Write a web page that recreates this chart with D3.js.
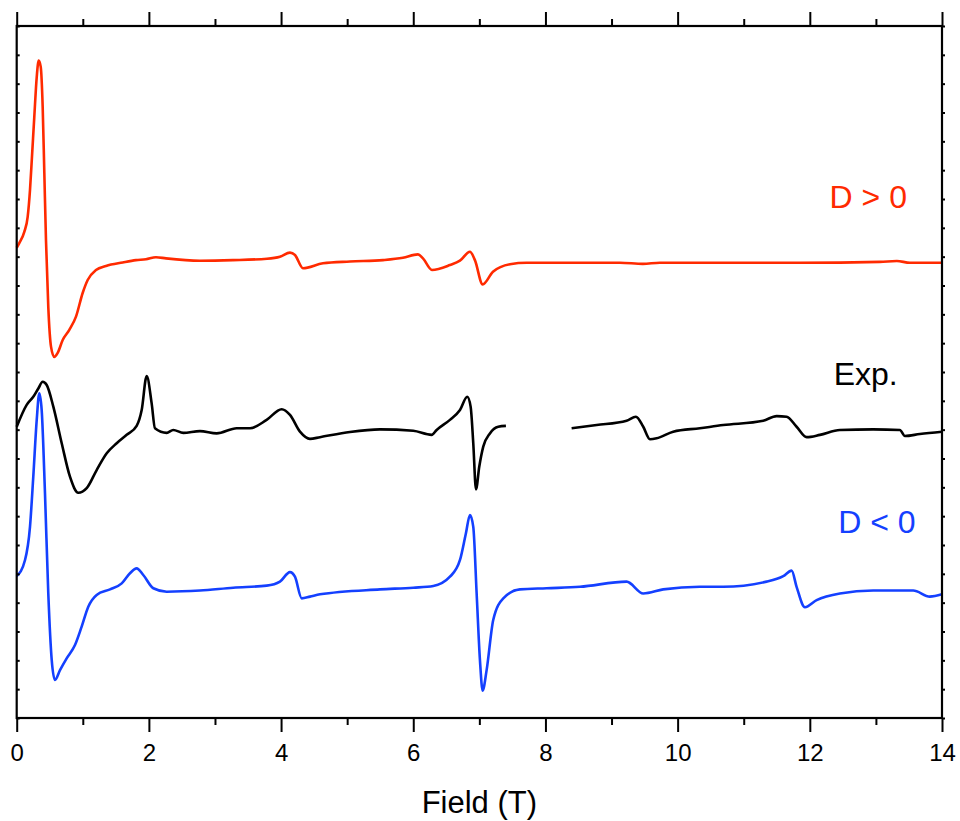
<!DOCTYPE html>
<html>
<head>
<meta charset="utf-8">
<script src="https://cdn.jsdelivr.net/npm/d3@7"></script>
<style>
  body { margin: 0; background: #fff; }
  text { font-family: "Liberation Sans", Arial, sans-serif; }
</style>
</head>
<body>
<script>
// D > 0 simulation (red)
const posField = [0, 0.039, 0.115, 0.166, 0.201, 0.231, 0.266, 0.303, 0.333, 0.363, 0.393, 0.418, 0.443, 0.478, 0.519, 0.569, 0.620, 0.696, 0.796, 0.897, 0.998, 1.074, 1.200, 1.351, 1.604, 1.805, 1.956, 2.107, 2.259, 2.773, 3.272, 3.787, 3.983, 4.135, 4.210, 4.331, 4.634, 5.042, 5.542, 5.844, 6.071, 6.147, 6.283, 6.555, 6.706, 6.858, 6.933, 7.050, 7.206, 7.463, 7.716, 8.068, 9.127, 9.475, 9.732, 11.850, 13.060, 13.317, 13.514, 14.0];
const posInt = [16.31, 16.47, 16.86, 17.38, 18.31, 19.46, 20.84, 22.23, 22.80, 22.59, 21.20, 18.90, 16.58, 14.25, 12.88, 12.52, 12.66, 13.11, 13.46, 13.92, 14.74, 15.19, 15.54, 15.68, 15.80, 15.88, 15.91, 15.98, 15.94, 15.86, 15.88, 15.93, 16.00, 16.14, 16.06, 15.60, 15.77, 15.83, 15.88, 15.96, 16.08, 15.94, 15.54, 15.71, 15.86, 16.17, 15.88, 15.04, 15.48, 15.74, 15.79, 15.79, 15.79, 15.75, 15.79, 15.79, 15.82, 15.85, 15.79, 15.79];

// experiment (black), null = gap in the measurement
const expField = [0, 0.151, 0.251, 0.327, 0.393, 0.454, 0.554, 0.681, 0.806, 0.932, 1.059, 1.210, 1.362, 1.513, 1.664, 1.815, 1.891, 1.967, 2.042, 2.092, 2.269, 2.369, 2.520, 2.773, 3.026, 3.328, 3.530, 3.782, 4.009, 4.135, 4.286, 4.437, 4.589, 5.042, 5.496, 6.000, 6.278, 6.354, 6.555, 6.707, 6.817, 6.868, 6.908, 6.949, 6.999, 7.059, 7.160, 7.286, 7.402, null, 8.396, 8.775, 9.228, 9.369, 9.480, 9.581, 9.682, 9.933, 10.337, 10.690, 11.295, 11.498, 11.649, 11.800, 11.952, 12.153, 12.455, 12.959, 13.362, 13.438, 13.665, 14.0];
const expInt = [10.10, 10.86, 11.14, 11.43, 11.66, 11.55, 10.80, 9.53, 8.37, 7.81, 7.97, 8.60, 9.18, 9.53, 9.82, 10.13, 10.68, 11.86, 10.91, 10.05, 9.89, 9.99, 9.89, 9.95, 9.87, 10.05, 10.05, 10.34, 10.71, 10.51, 9.93, 9.68, 9.74, 9.92, 10.01, 9.96, 9.82, 9.99, 10.34, 10.68, 11.14, 10.80, 9.53, 7.93, 8.72, 9.41, 9.87, 10.10, 10.13, null, 10.05, 10.16, 10.31, 10.45, 10.10, 9.67, 9.70, 9.93, 10.05, 10.16, 10.31, 10.47, 10.45, 10.10, 9.74, 9.82, 9.99, 10.01, 9.99, 9.78, 9.85, 9.93];

// D < 0 simulation (blue)
const negField = [0, 0.126, 0.201, 0.251, 0.303, 0.342, 0.378, 0.428, 0.478, 0.530, 0.579, 0.655, 0.756, 0.882, 0.983, 1.083, 1.210, 1.412, 1.589, 1.714, 1.815, 1.915, 2.067, 2.269, 2.773, 3.277, 3.782, 3.983, 4.135, 4.210, 4.312, 4.437, 4.589, 5.496, 6.000, 6.303, 6.555, 6.707, 6.797, 6.858, 6.908, 6.959, 7.009, 7.050, 7.110, 7.210, 7.362, 7.614, 8.018, 8.522, 9.228, 9.480, 9.782, 10.337, 10.690, 11.346, 11.598, 11.725, 11.800, 11.926, 12.103, 12.455, 12.959, 13.564, 13.816, 14.0];
const negInt = [4.92, 5.48, 6.63, 8.37, 10.34, 11.26, 10.68, 7.79, 4.32, 2.01, 1.32, 1.66, 2.07, 2.53, 3.17, 3.86, 4.27, 4.46, 4.67, 5.02, 5.19, 4.96, 4.50, 4.38, 4.42, 4.52, 4.59, 4.73, 5.06, 4.90, 4.15, 4.21, 4.29, 4.46, 4.52, 4.58, 4.90, 5.48, 6.41, 7.04, 6.63, 4.32, 2.01, 0.95, 1.66, 3.40, 4.15, 4.46, 4.50, 4.55, 4.73, 4.32, 4.46, 4.55, 4.55, 4.73, 4.92, 5.11, 4.55, 3.84, 4.09, 4.32, 4.42, 4.42, 4.21, 4.29];

const xMajor = [0, 2, 4, 6, 8, 10, 12, 14];
const xMinor = [1, 3, 5, 7, 9, 11, 13];

const series = [
  {field: posField, inten: posInt, color: '#ff2a00', label: 'D > 0', lx: 13.47, ly: 17.7},
  {field: expField, inten: expInt, color: '#000000', label: 'Exp.', lx: 13.33, ly: 11.55},
  {field: negField, inten: negInt, color: '#1440ff', label: 'D < 0', lx: 13.6, ly: 6.4}
];

const width = 960, height = 821;
const margin = {top: 26, right: 18, bottom: 103, left: 16.7};
const innerWidth = width - margin.left - margin.right;
const innerHeight = height - margin.top - margin.bottom;

const svg = d3.select('body').append('svg').attr('width', width).attr('height', height);
const grp = svg.append('g').attr('transform', `translate(${margin.left},${margin.top})`);

const x = d3.scaleLinear().domain([0, 14]).range([0, innerWidth]);
const y = d3.scaleLinear().domain([0, 24]).range([innerHeight, 0]);

const line = d3.line()
  .defined(d => d[0] != null && d[1] != null)
  .x(d => x(d[0])).y(d => y(d[1]))
  .curve(d3.curveMonotoneX);

series.forEach(s => {
  const pts = s.field.map((f, i) => [f, s.inten[i]]);
  grp.append('path').datum(pts)
    .attr('fill', 'none').attr('stroke', s.color)
    .attr('stroke-width', 2.6).attr('stroke-linejoin', 'round')
    .attr('d', line);
  grp.append('text')
    .attr('x', x(s.lx)).attr('y', y(s.ly))
    .attr('text-anchor', 'end').attr('font-size', 32)
    .attr('fill', s.color).text(s.label);
});

// axes: major + minor ticks on bottom and top
function styleAxis(g) {
  g.select('.domain').remove();
  g.selectAll('line').attr('stroke', '#000').attr('stroke-width', 2);
  g.selectAll('text').filter(function() { return !this.textContent; }).remove();
}
grp.append('g').attr('transform', `translate(0,${innerHeight})`)
  .call(d3.axisBottom(x).tickValues(xMajor).tickSize(14).tickPadding(12).tickFormat(d3.format('d')))
  .call(styleAxis)
  .selectAll('text').attr('font-size', 24).attr('fill', '#000')
  .style('font-family', '"Liberation Sans", Arial, sans-serif');
grp.append('g').attr('transform', `translate(0,${innerHeight})`)
  .call(d3.axisBottom(x).tickValues(xMinor).tickSize(7).tickFormat(''))
  .call(styleAxis);
grp.append('g')
  .call(d3.axisTop(x).tickValues(xMajor).tickSize(14).tickFormat(''))
  .call(styleAxis);
grp.append('g')
  .call(d3.axisTop(x).tickValues(xMinor).tickSize(7).tickFormat(''))
  .call(styleAxis);

// small y ticks, no labels
grp.append('g')
  .call(d3.axisRight(y).ticks(24).tickSize(3).tickFormat(''))
  .call(styleAxis);
grp.append('g').attr('transform', `translate(${innerWidth},0)`)
  .call(d3.axisRight(y).ticks(24).tickSize(3).tickFormat(''))
  .call(styleAxis);

// frame
grp.append('rect').attr('width', innerWidth).attr('height', innerHeight)
  .attr('fill', 'none').attr('stroke', '#000').attr('stroke-width', 2.2);

svg.append('text')
  .attr('x', margin.left + innerWidth / 2).attr('y', 813)
  .attr('text-anchor', 'middle').attr('font-size', 31)
  .text('Field (T)');
</script>
</body>
</html>
